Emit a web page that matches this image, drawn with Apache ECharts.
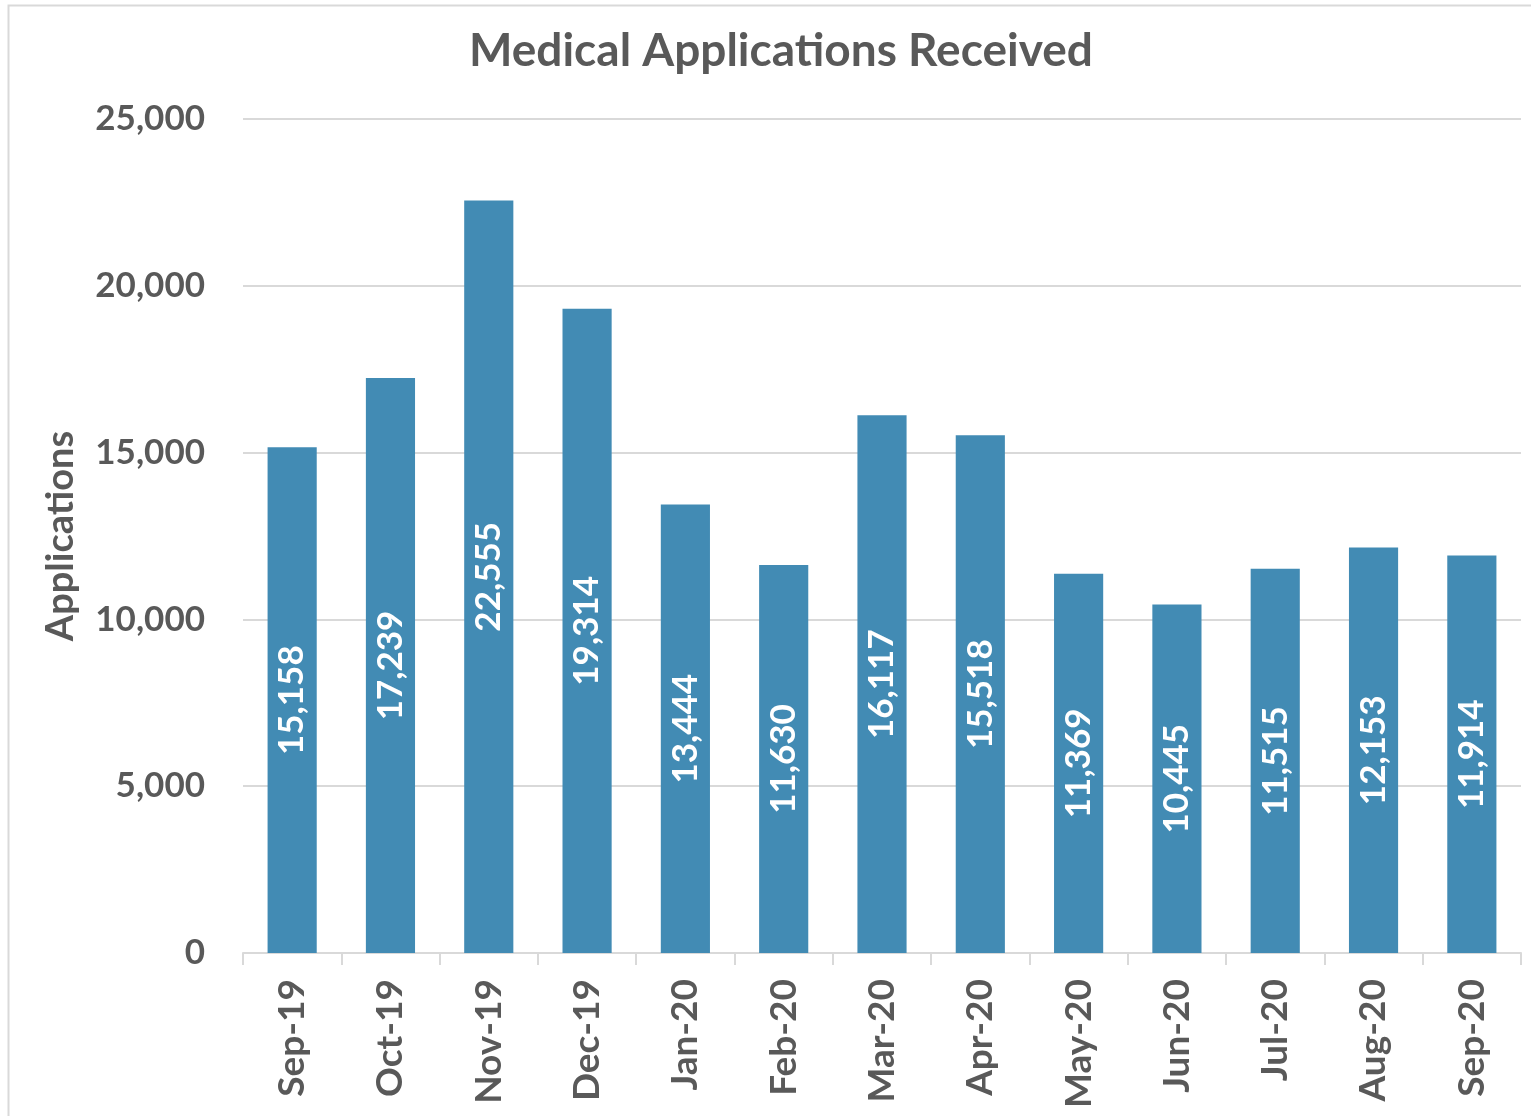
<!DOCTYPE html>
<html>
<head>
<meta charset="utf-8">
<script src="https://cdn.jsdelivr.net/npm/echarts@6/dist/echarts.min.js"></script>
<style>
  html, body { margin: 0; padding: 0; background: #fff; }
  #chart { width: 1531px; height: 1116px; }
</style>
</head>
<body>
<div id="chart"></div>
<script type="text/javascript">
    // data
    var months = ['Sep-19', 'Oct-19', 'Nov-19', 'Dec-19', 'Jan-20', 'Feb-20', 'Mar-20',
                  'Apr-20', 'May-20', 'Jun-20', 'Jul-20', 'Aug-20', 'Sep-20'];
    var applications = [15158, 17239, 22555, 19314, 13444, 11630, 16117,
                        15518, 11369, 10445, 11515, 12153, 11914];

    var font = 'Lato, "Open Sans", sans-serif';
    var grey = '#595959';

    var myChart = echarts.init(document.getElementById('chart'));

    var option = {
        backgroundColor: '#fff',
        animation: false,
        title: {
            text: 'Medical Applications Received',
            left: 464,
            top: 23,
            textStyle: { fontFamily: font, fontSize: 46, fontWeight: 'bold', color: grey }
        },
        graphic: [{
            type: 'rect',
            shape: { x: 8.5, y: 5.5, width: 1540, height: 1140 },
            style: { fill: 'none', stroke: '#d9d9d9', lineWidth: 2 }
        }],
        grid: { left: 243, right: 10, top: 119, bottom: 163 },
        xAxis: {
            type: 'category',
            data: months,
            axisLine: { lineStyle: { color: '#d9d9d9', width: 2 } },
            axisTick: { show: true, length: 12, lineStyle: { color: '#d9d9d9', width: 2 } },
            axisLabel: {
                rotate: 90, margin: 26,
                fontFamily: font, fontSize: 37, fontWeight: 'bold', color: grey
            }
        },
        yAxis: {
            type: 'value',
            min: 0, max: 25000, interval: 5000,
            name: 'Applications',
            nameLocation: 'middle',
            nameGap: 163,
            nameTextStyle: { fontFamily: font, fontSize: 38, fontWeight: 'bold', color: grey },
            axisLine: { show: false },
            axisTick: { show: false },
            splitLine: { lineStyle: { color: '#d9d9d9', width: 2 } },
            axisLabel: {
                margin: 38,
                fontFamily: font, fontSize: 35, fontWeight: 'bold', color: grey,
                formatter: function (v) { return v.toLocaleString('en-US'); }
            }
        },
        series: [{
            type: 'bar',
            data: applications,
            barWidth: '50%',
            itemStyle: { color: '#428BB4' },
            label: {
                show: true,
                position: 'inside',
                rotate: 90,
                fontFamily: font, fontSize: 35, fontWeight: 'bold', color: '#fff',
                formatter: function (p) { return p.value.toLocaleString('en-US'); }
            }
        }]
    };

    myChart.setOption(option);
</script>
</body>
</html>
